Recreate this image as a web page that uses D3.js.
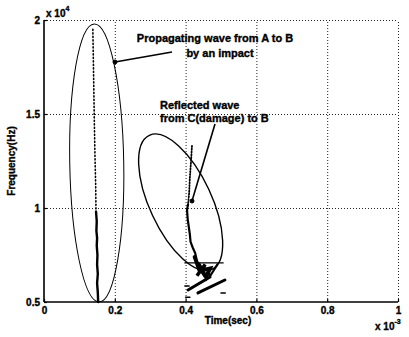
<!DOCTYPE html>
<html>
<head>
<meta charset="utf-8">
<script src="https://cdn.jsdelivr.net/npm/d3@7"></script>
<style>
  * { margin: 0; padding: 0; }
  body { background: #fff; width: 409px; height: 337px; overflow: hidden; }
  svg { display: block; font-family: 'Liberation Sans', Arial, sans-serif; font-weight: bold; }
  svg text { fill: #000; stroke: #000; stroke-width: 0.35; }
  .tick text { font-size: 10px; font-weight: bold; }
  .grid line { stroke: #222; stroke-width: 1; stroke-dasharray: 1 2; }
  .grid path { display: none; }
</style>
</head>
<body>
<svg id="chart" width="409" height="337"></svg>
<script>
  // axis ticks (time in sec, frequency in Hz)
  const timeTicks = [0, 0.2e-3, 0.4e-3, 0.6e-3, 0.8e-3, 1e-3];
  const timeTickLabels = ["0", "0.2", "0.4", "0.6", "0.8", "1"];
  const freqTicks = [0.5e4, 1e4, 1.5e4, 2e4];
  const freqTickLabels = ["0.5", "1", "1.5", "2"];

  // propagating wave ridge (A -> B), sparse upper part then dense lower part
  const propSparseTime = [0.138e-3, 0.140e-3, 0.142e-3, 0.144e-3, 0.146e-3, 0.147e-3];
  const propSparseFreq = [1.95e4, 1.72e4, 1.48e4, 1.28e4, 1.12e4, 0.98e4];
  const propDenseTime = [0.147e-3, 0.149e-3, 0.148e-3, 0.150e-3, 0.149e-3, 0.151e-3, 0.150e-3, 0.152e-3, 0.150e-3, 0.152e-3, 0.153e-3];
  const propDenseFreq = [0.98e4, 0.93e4, 0.88e4, 0.84e4, 0.8e4, 0.75e4, 0.7e4, 0.65e4, 0.6e4, 0.55e4, 0.5e4];

  // reflected wave ridge (C -> B)
  const reflSparseTime = [0.418e-3, 0.415e-3, 0.412e-3, 0.410e-3, 0.407e-3];
  const reflSparseFreq = [1.33e4, 1.24e4, 1.16e4, 1.08e4, 1.02e4];
  const reflDenseTime = [0.407e-3, 0.404e-3, 0.406e-3, 0.409e-3, 0.412e-3, 0.414e-3, 0.420e-3, 0.427e-3, 0.432e-3, 0.440e-3, 0.445e-3, 0.452e-3, 0.462e-3, 0.470e-3, 0.480e-3, 0.490e-3];
  const reflDenseFreq = [1.02e4, 0.99e4, 0.94e4, 0.90e4, 0.86e4, 0.82e4, 0.79e4, 0.76e4, 0.72e4, 0.69e4, 0.66e4, 0.64e4, 0.66e4, 0.64e4, 0.67e4, 0.70e4];
  const reflBlobTime = [0.425e-3, 0.440e-3, 0.432e-3, 0.455e-3, 0.447e-3, 0.470e-3, 0.458e-3, 0.438e-3];
  const reflBlobFreq = [0.74e4, 0.66e4, 0.64e4, 0.70e4, 0.67e4, 0.68e4, 0.63e4, 0.70e4];
  // horizontal stroke and the two diagonal streaks under the reflected ridge
  const reflFlatTime = [0.398e-3, 0.506e-3];
  const reflFlatFreq = [0.708e4, 0.708e4];
  const streak1Time = [0.407e-3, 0.469e-3];
  const streak1Freq = [0.564e4, 0.633e4];
  const streak2Time = [0.435e-3, 0.511e-3];
  const streak2Freq = [0.548e4, 0.617e4];
  const dashTime = [0.398e-3, 0.500e-3, 0.400e-3];
  const dashFreq = [0.585e4, 0.548e4, 0.525e4];

  const margin = { left: 44, right: 11, top: 20, bottom: 35 };
  const width = 409, height = 337;
  const svg = d3.select("#chart");

  const x = d3.scaleLinear().domain([0, 1e-3]).range([margin.left, width - margin.right]);
  const y = d3.scaleLinear().domain([0.5e4, 2e4]).range([height - margin.bottom, margin.top]);
  const x0 = margin.left, x1 = width - margin.right, y0 = height - margin.bottom, y1 = margin.top;

  // grid
  svg.append("g").attr("class", "grid")
    .attr("transform", `translate(0,${y0})`)
    .call(d3.axisBottom(x).tickValues(timeTicks.slice(1)).tickSize(-(y0 - y1)).tickFormat(""));
  svg.append("g").attr("class", "grid")
    .attr("transform", `translate(${x0},0)`)
    .call(d3.axisLeft(y).tickValues(freqTicks.slice(1)).tickSize(-(x1 - x0)).tickFormat(""));

  // axes (MATLAB style inward ticks)
  const xAxis = svg.append("g")
    .attr("transform", `translate(0,${y0})`)
    .call(d3.axisBottom(x).tickValues(timeTicks).tickSize(-3).tickPadding(6).tickFormat((d, i) => timeTickLabels[i]));
  const yAxis = svg.append("g")
    .attr("transform", `translate(${x0},0)`)
    .call(d3.axisLeft(y).tickValues(freqTicks).tickSize(-3).tickPadding(4).tickFormat((d, i) => freqTickLabels[i]));
  [xAxis, yAxis].forEach(a => {
    a.select(".domain").attr("stroke", "#000").attr("stroke-width", 1.6);
    a.selectAll(".tick line").attr("stroke", "#000").attr("stroke-width", 1.2);
  });
  xAxis.select(".domain").attr("d", `M${x0},0H${x1}`);
  yAxis.select(".domain").attr("d", `M0,${y0}V${y1}`);
  xAxis.selectAll(".tick text").attr("dy", "0.55em");
  yAxis.selectAll(".tick text").attr("dy", "0.35em");

  // exponent labels
  const exp4 = svg.append("text").attr("x", x0 + 2).attr("y", 17).attr("font-size", 10);
  exp4.append("tspan").text("x 10");
  exp4.append("tspan").attr("dy", -6).attr("font-size", 7).text("4");
  const exp3 = svg.append("text").attr("x", 375).attr("y", 330).attr("font-size", 10);
  exp3.append("tspan").text("x 10");
  exp3.append("tspan").attr("dy", -6).attr("font-size", 7).text("-3");

  // axis titles
  svg.append("text").attr("x", 228).attr("y", 324).attr("text-anchor", "middle")
    .attr("font-size", 10).text("Time(sec)");
  svg.append("text").attr("transform", `translate(15,161) rotate(-90)`).attr("text-anchor", "middle")
    .attr("font-size", 10).text("Frequency(Hz)");

  // ridges
  const line = d3.line().x(d => x(d[0])).y(d => y(d[1])).curve(d3.curveLinear);
  const zip = (t, f) => t.map((v, i) => [v, f[i]]);
  const g = svg.append("g").attr("fill", "none").attr("stroke", "#000").attr("stroke-linecap", "round");

  g.append("path").attr("d", line(zip(propSparseTime, propSparseFreq)))
    .attr("stroke-width", 1.6).attr("stroke-dasharray", "1 2.5");
  g.append("path").attr("d", line(zip(propDenseTime, propDenseFreq))).attr("stroke-width", 2.4);

  g.append("path").attr("d", line(zip(reflSparseTime, reflSparseFreq)))
    .attr("stroke-width", 1.8).attr("stroke-dasharray", "1 1.8");
  g.append("path").attr("d", line(zip(reflDenseTime, reflDenseFreq))).attr("stroke-width", 2.2);
  g.append("path").attr("d", line(zip(reflBlobTime, reflBlobFreq))).attr("stroke-width", 3.5);
  g.append("path").attr("d", line(zip(reflFlatTime, reflFlatFreq))).attr("stroke-width", 1.3);
  g.append("path").attr("d", line(zip(streak1Time, streak1Freq))).attr("stroke-width", 3);
  g.append("path").attr("d", line(zip(streak2Time, streak2Freq))).attr("stroke-width", 3);
  dashTime.forEach((t, i) => {
    g.append("path").attr("d", line([[t, dashFreq[i]], [t + 0.012e-3, dashFreq[i]]])).attr("stroke-width", 1.5);
  });

  // ellipses (annotation)
  const ann = svg.append("g").attr("fill", "none").attr("stroke", "#000");
  ann.append("ellipse").attr("cx", x(0.149e-3)).attr("cy", y(1.24e4)).attr("rx", 27).attr("ry", 139)
    .attr("transform", `rotate(-1,${x(0.149e-3)},${y(1.24e4)})`).attr("stroke-width", 1);
  ann.append("ellipse").attr("cx", x(0.386e-3)).attr("cy", y(1.03e4)).attr("rx", 31).attr("ry", 74)
    .attr("transform", `rotate(-25,${x(0.386e-3)},${y(1.03e4)})`).attr("stroke-width", 1.4);

  // arrows with dot ends
  ann.append("line").attr("x1", 172).attr("y1", 52).attr("x2", 115).attr("y2", 62).attr("stroke-width", 1.6);
  ann.append("circle").attr("cx", 115).attr("cy", 62).attr("r", 2).attr("fill", "#000");
  ann.append("line").attr("x1", 215).attr("y1", 124).attr("x2", 192).attr("y2", 201).attr("stroke-width", 1.6);
  ann.append("circle").attr("cx", 192).attr("cy", 201).attr("r", 2).attr("fill", "#000");

  // annotation texts
  svg.append("text").attr("x", 215).attr("y", 42).attr("text-anchor", "middle").attr("font-size", 11)
    .text("Propagating wave from A to B");
  svg.append("text").attr("x", 220).attr("y", 57).attr("text-anchor", "middle").attr("font-size", 11)
    .text("by an impact");
  svg.append("text").attr("x", 160).attr("y", 109).attr("font-size", 11).text("Reflected wave");
  svg.append("text").attr("x", 160).attr("y", 122).attr("font-size", 11).text("from C(damage) to B");
</script>
</body>
</html>
